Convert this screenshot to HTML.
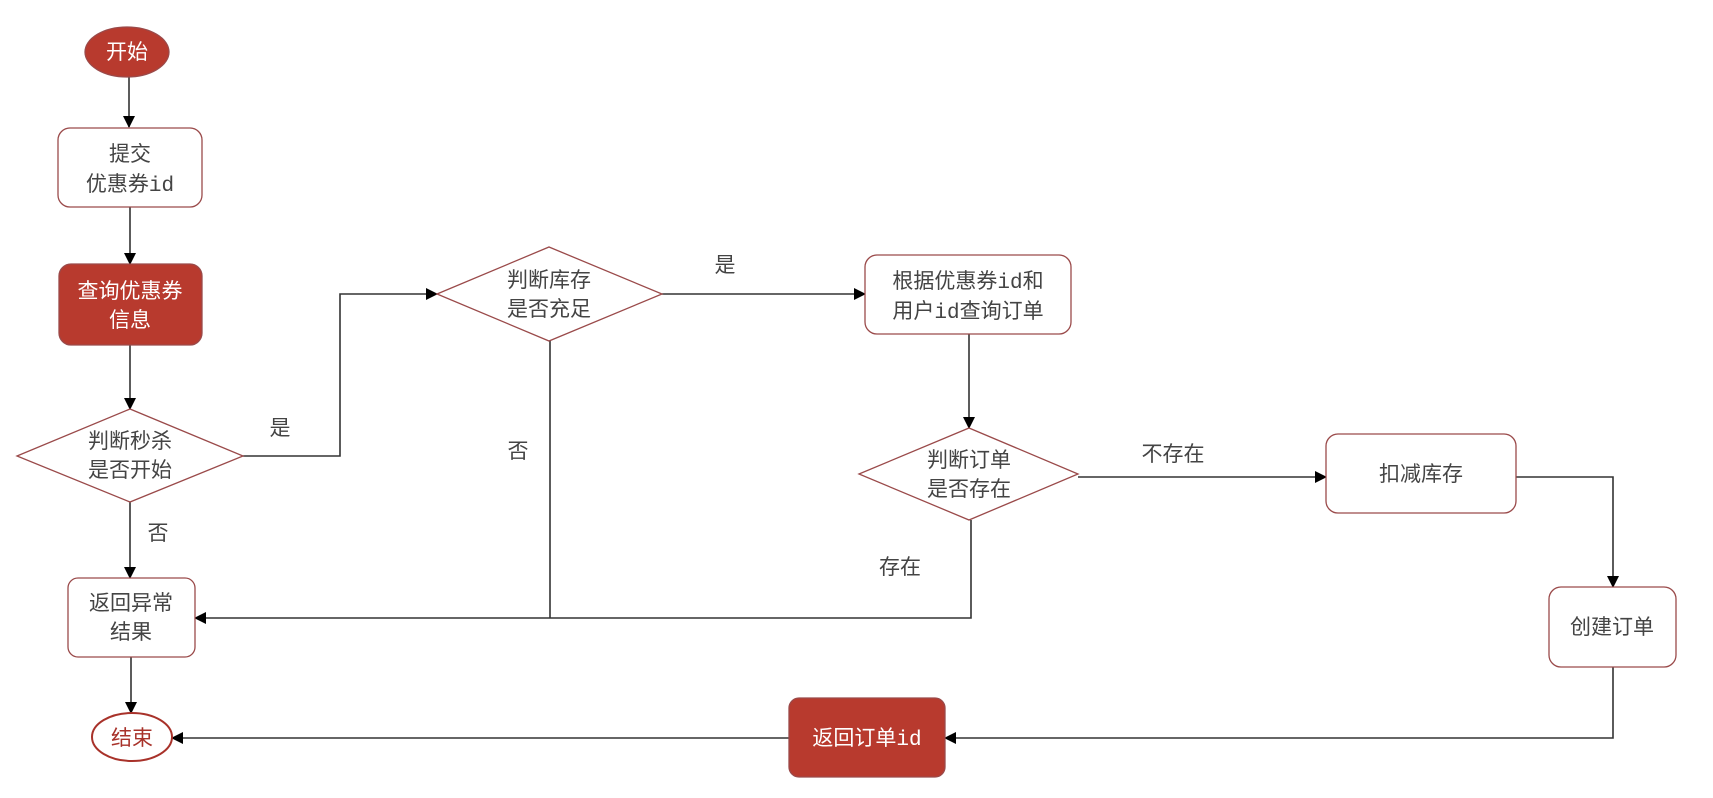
<!DOCTYPE html>
<html><head><meta charset="utf-8"><style>
html,body{margin:0;padding:0;background:#fff;}
svg{display:block;}
text{font-family:"Liberation Sans","Noto Sans CJK SC",sans-serif;font-size:21px;fill:#444;text-anchor:middle;}
.m{font-family:"Liberation Mono","Noto Sans CJK SC",monospace;}
.w{fill:#fff;}
.r{fill:#a8322a;}
</style></head><body>
<svg width="1713" height="798" viewBox="0 0 1713 798" xmlns="http://www.w3.org/2000/svg">
<defs><marker id="a" markerWidth="12" markerHeight="12" refX="11" refY="6" orient="auto" markerUnits="userSpaceOnUse"><path d="M0,0 L12,6 L0,12 z" fill="#000"/></marker></defs>
<g fill="none" stroke="#333" stroke-width="1.6">
<line x1="129" y1="77" x2="129" y2="127" marker-end="url(#a)"/>
<line x1="130" y1="207" x2="130" y2="264" marker-end="url(#a)"/>
<line x1="130" y1="345" x2="130" y2="409" marker-end="url(#a)"/>
<polyline points="243,456 340,456 340,294 437,294" marker-end="url(#a)"/>
<line x1="662" y1="294" x2="865" y2="294" marker-end="url(#a)"/>
<line x1="969" y1="334" x2="969" y2="428" marker-end="url(#a)"/>
<line x1="1078" y1="477" x2="1326" y2="477" marker-end="url(#a)"/>
<polyline points="1516,477 1613,477 1613,587" marker-end="url(#a)"/>
<polyline points="1613,667 1613,738 945,738" marker-end="url(#a)"/>
<line x1="789" y1="738" x2="172" y2="738" marker-end="url(#a)"/>
<line x1="130" y1="502" x2="130" y2="578" marker-end="url(#a)"/>
<line x1="550" y1="341" x2="550" y2="618"/>
<polyline points="971,520 971,618 195,618" marker-end="url(#a)"/>
<line x1="131" y1="657" x2="131" y2="713" marker-end="url(#a)"/>
</g>
<g stroke="#9a4a4a" stroke-width="1.3">
<ellipse cx="127" cy="52" rx="42" ry="25" fill="#b83a2e"/>
<rect x="58" y="128" width="144" height="79" rx="12" fill="#fff"/>
<rect x="59" y="264" width="143" height="81" rx="12" fill="#b83a2e"/>
<polygon points="17,456 130,409 243,456 130,502" fill="#fff"/>
<polygon points="437,294 549,247 662,294 549,341" fill="#fff"/>
<rect x="865" y="255" width="206" height="79" rx="12" fill="#fff"/>
<polygon points="859,474 969,428 1078,474 969,520" fill="#fff"/>
<rect x="1326" y="434" width="190" height="79" rx="12" fill="#fff"/>
<rect x="1549" y="587" width="127" height="80" rx="12" fill="#fff"/>
<rect x="68" y="578" width="127" height="79" rx="10" fill="#fff"/>
<ellipse cx="132" cy="737" rx="40" ry="24" fill="#fff" stroke="#a8322a" stroke-width="2"/>
<rect x="789" y="698" width="156" height="79" rx="10" fill="#b83a2e"/>
</g>
<text class="w" x="127" y="59">开始</text>
<text x="130" y="161">提交</text>
<text class="m" x="130" y="191">优惠券id</text>
<text class="w" x="130" y="298">查询优惠券</text>
<text class="w" x="130" y="327">信息</text>
<text x="130" y="448">判断秒杀</text>
<text x="130" y="477">是否开始</text>
<text x="280" y="435">是</text>
<text x="549" y="287">判断库存</text>
<text x="549" y="316">是否充足</text>
<text x="725" y="272">是</text>
<text x="518" y="458">否</text>
<text class="m" x="968" y="288">根据优惠券id和</text>
<text class="m" x="968" y="318">用户id查询订单</text>
<text x="969" y="467">判断订单</text>
<text x="969" y="496">是否存在</text>
<text x="1173" y="461">不存在</text>
<text x="1421" y="481">扣减库存</text>
<text x="1612" y="634">创建订单</text>
<text x="900" y="574">存在</text>
<text x="158" y="540">否</text>
<text x="131" y="610">返回异常</text>
<text x="131" y="639">结果</text>
<text class="r" x="132" y="745">结束</text>
<text class="w m" x="867" y="745">返回订单id</text>
</svg>
</body></html>
